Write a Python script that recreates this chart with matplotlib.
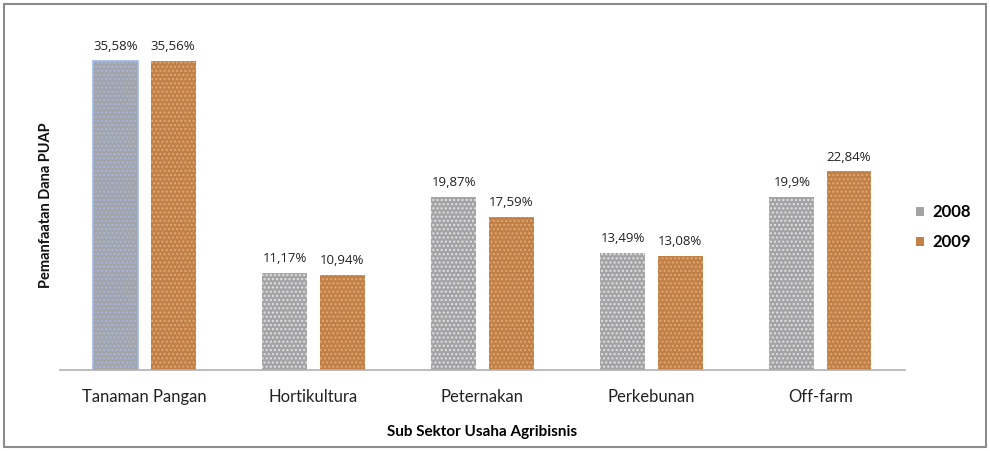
import matplotlib
matplotlib.use("Agg")
import matplotlib.pyplot as plt
import numpy as np
from matplotlib.patches import Rectangle
from matplotlib import font_manager

categories = ["Tanaman Pangan", "Hortikultura", "Peternakan", "Perkebunan", "Off-farm"]
v2008 = [35.58, 11.17, 19.87, 13.49, 19.9]
v2009 = [35.56, 10.94, 17.59, 13.08, 22.84]
lab2008 = ["35,58%", "11,17%", "19,87%", "13,49%", "19,9%"]
lab2009 = ["35,56%", "10,94%", "17,59%", "13,08%", "22,84%"]
series = ["2008", "2009"]

names = {f.name for f in font_manager.fontManager.ttflist}
narrow = "Liberation Sans Narrow" if "Liberation Sans Narrow" in names else "Lato"

fig = plt.figure(figsize=(9.9, 4.51), dpi=100)
fig.patches.append(Rectangle((0.004, 0.009), 0.992, 0.982, transform=fig.transFigure,
                             fill=False, edgecolor="#8c8c8c", linewidth=1.5))
ax = fig.add_axes([0.0606, 0.1796, 0.8535, 0.7714])

x = np.arange(len(categories))
w = 0.266
off = 0.169
b1 = ax.bar(x - off, v2008, w, color="#a4a4a6", hatch="....", linewidth=0, label=series[0])
b2 = ax.bar(x + off, v2009, w, color="#c27f46", hatch="....", linewidth=0, label=series[1])
for b in b1:
    b.set_edgecolor("#e2e2e2")
b1[0].set_linewidth(1.2)
b1[0].set_edgecolor("#9fb8e8")
for b in b2:
    b.set_edgecolor("#dcaa78")

for i in range(len(categories)):
    ax.text(x[i] - off, v2008[i] + 0.9, lab2008[i], ha="center", va="bottom",
            fontsize=9.5, color="#222222", family="Open Sans")
    ax.text(x[i] + off, v2009[i] + 0.9, lab2009[i], ha="center", va="bottom",
            fontsize=9.5, color="#222222", family="Open Sans")

ax.set_xlim(-0.5, 4.5)
ax.set_ylim(0, 40)
ax.set_xticks(x)
ax.set_xticklabels(categories, fontsize=12, family="Lato", color="#222222")
ax.tick_params(axis="x", length=0, pad=14)
ax.set_yticks([])
for s in ["top", "right", "left"]:
    ax.spines[s].set_visible(False)
ax.spines["bottom"].set_color("#b0b0b0")
ax.spines["bottom"].set_linewidth(1.2)

ax.set_xlabel("Sub Sektor Usaha Agribisnis", fontsize=11, fontweight="bold", family="Lato", labelpad=14)
fig.text(0.046, 0.545, "Pemanfaatan Dana PUAP", rotation=90, ha="center", va="center",
         fontsize=10.5, family=narrow, fontweight="bold", color="#111111")

leg = ax.legend(loc="center left", bbox_to_anchor=(0.995, 0.41), frameon=False,
                prop={"family": "Lato", "weight": "bold", "size": 12},
                handlelength=0.5, handleheight=0.5, handletextpad=0.5, labelspacing=0.85)
for h in leg.legend_handles:
    h.set_hatch(None)
    h.set_linewidth(0)

fig.savefig("out.png", dpi=100)
